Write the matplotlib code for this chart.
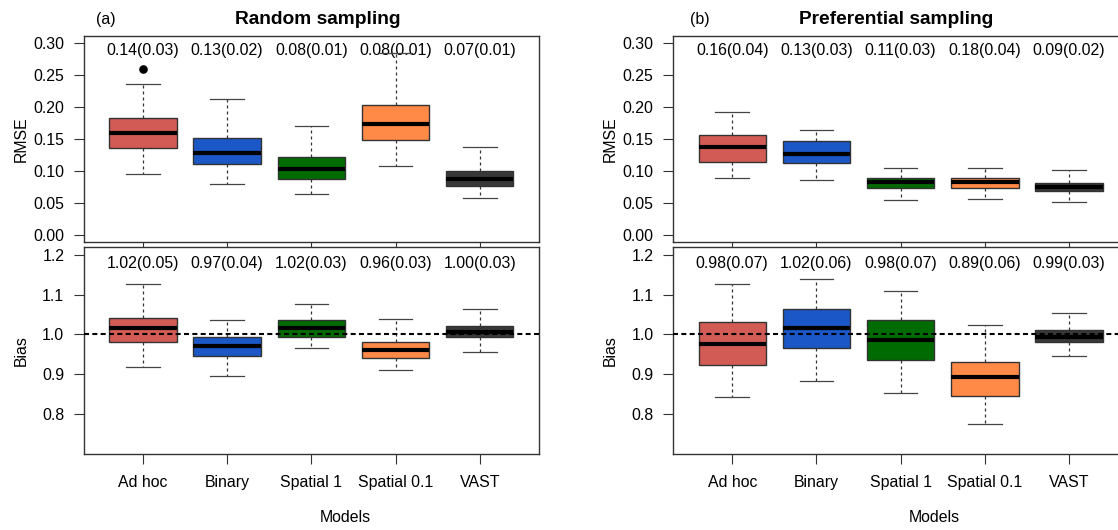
import matplotlib
matplotlib.use("Agg")
from matplotlib import pyplot as plt

plt.rcParams["font.family"] = ["Liberation Sans", "DejaVu Sans"]

models = ["Ad hoc", "Binary", "Spatial 1", "Spatial 0.1", "VAST"]
colors = ["#D25B55", "#1B57C6", "#006B00", "#FF8A47", "#383838"]

# box summaries: lower whisker, q1, median, q3, upper whisker
random_rmse = [[0.095, 0.136, 0.160, 0.183, 0.236],
               [0.080, 0.111, 0.128, 0.151, 0.212],
               [0.064, 0.087, 0.103, 0.121, 0.170],
               [0.108, 0.149, 0.173, 0.203, 0.285],
               [0.058, 0.076, 0.088, 0.100, 0.137]]
random_rmse_fliers = [[0.260], [], [], [], []]
random_rmse_text = ["0.14(0.03)", "0.13(0.02)", "0.08(0.01)", "0.08(0.01)", "0.07(0.01)"]

random_bias = [[0.919, 0.982, 1.016, 1.042, 1.127],
               [0.896, 0.945, 0.972, 0.993, 1.037],
               [0.967, 0.993, 1.016, 1.035, 1.076],
               [0.910, 0.942, 0.961, 0.982, 1.039],
               [0.957, 0.993, 1.005, 1.022, 1.064]]
random_bias_text = ["1.02(0.05)", "0.97(0.04)", "1.02(0.03)", "0.96(0.03)", "1.00(0.03)"]

pref_rmse = [[0.089, 0.114, 0.138, 0.156, 0.193],
             [0.086, 0.112, 0.126, 0.147, 0.164],
             [0.055, 0.073, 0.082, 0.089, 0.105],
             [0.056, 0.073, 0.082, 0.089, 0.105],
             [0.051, 0.068, 0.075, 0.081, 0.101]]
pref_rmse_text = ["0.16(0.04)", "0.13(0.03)", "0.11(0.03)", "0.18(0.04)", "0.09(0.02)"]

pref_bias = [[0.844, 0.924, 0.975, 1.030, 1.126],
             [0.884, 0.966, 1.016, 1.064, 1.140],
             [0.853, 0.936, 0.987, 1.035, 1.109],
             [0.775, 0.845, 0.893, 0.931, 1.023],
             [0.945, 0.980, 0.993, 1.010, 1.053]]
pref_bias_text = ["0.98(0.07)", "1.02(0.06)", "0.98(0.07)", "0.89(0.06)", "0.99(0.03)"]

rmse_ticks = [0.00, 0.05, 0.10, 0.15, 0.20, 0.25, 0.30]
bias_ticks = [0.8, 0.9, 1.0, 1.1, 1.2]

FS = 11.4
EDGE = "#333333"


def draw_panel(ax, stats, fliers, texts, text_y, ylim, yticks, fmt, ylabel, show_x):
    positions = list(range(1, len(models) + 1))
    bxp_stats = []
    for s, f in zip(stats, fliers):
        bxp_stats.append(dict(whislo=s[0], q1=s[1], med=s[2], q3=s[3], whishi=s[4], fliers=f))
    parts = ax.bxp(bxp_stats, positions=positions, widths=0.8, capwidths=0.4,
                   patch_artist=True, showfliers=True,
                   boxprops=dict(edgecolor=EDGE, linewidth=1.0),
                   medianprops=dict(color="black", linewidth=3.0, solid_capstyle="butt"),
                   whiskerprops=dict(color=EDGE, linewidth=0.9, linestyle=(0, (2.4, 2.4))),
                   capprops=dict(color="#444444", linewidth=0.9),
                   flierprops=dict(marker="o", markerfacecolor="black",
                                   markeredgecolor="black", markersize=5.2))
    for patch, c in zip(parts["boxes"], colors):
        patch.set_facecolor(c)
    for x, t in zip(positions, texts):
        ax.text(x, text_y, t, ha="center", va="center", fontsize=FS, zorder=1)
    ax.set_xlim(0.3, 5.7)
    ax.set_ylim(*ylim)
    ax.set_yticks(yticks)
    ax.set_yticklabels([fmt.format(v) for v in yticks])
    ax.set_xticks(positions)
    if show_x:
        ax.set_xticklabels(models)
    else:
        ax.set_xticklabels([])
    ax.tick_params(direction="out", length=7.2, width=0.8, color=EDGE, labelsize=FS)
    ax.tick_params(axis="y", pad=7)
    ax.tick_params(axis="x", pad=8)
    for sp in ax.spines.values():
        sp.set_color(EDGE)
        sp.set_linewidth(1.0)
    ax.set_ylabel(ylabel, fontsize=FS)
    ax.yaxis.set_label_coords(-0.122, 0.5)


fig = plt.figure(figsize=(11.18, 5.30), dpi=100)

W = 454.7 / 1118
H = 206.7 / 530
columns = [
    (84 / 1118, random_rmse, random_rmse_fliers, random_rmse_text, random_bias, random_bias_text,
     "(a)", "Random sampling", 0.514, 0.048),
    (673.3 / 1118, pref_rmse, [[] for _ in models], pref_rmse_text, pref_bias, pref_bias_text,
     "(b)", "Preferential sampling", 0.49, 0.058),
]

for left, rmse, rfl, rtxt, bias, btxt, tag, title, tx, tagx in columns:
    ax_top = fig.add_axes([left, 1 - 242.3 / 530, W, H])
    ax_bot = fig.add_axes([left, 1 - 453.7 / 530, W, H])
    draw_panel(ax_top, rmse, rfl, rtxt, 0.288, (-0.012, 0.312), rmse_ticks,
               "{:.2f}", "RMSE", False)
    draw_panel(ax_bot, bias, [[] for _ in models], btxt, 1.177, (0.7008, 1.2192), bias_ticks,
               "{:.1f}", "Bias", True)
    ax_bot.axhline(1.0, color="black", linewidth=1.5, linestyle=(0, (2.4, 1.6)), zorder=5)
    ax_bot.set_xlabel("Models", fontsize=FS)
    ax_bot.xaxis.set_label_coords(0.575, -0.272)
    ax_top.text(tx, 1.08, title, transform=ax_top.transAxes, ha="center", va="center",
                fontsize=13.8, fontweight="bold")
    ax_top.text(tagx, 1.08, tag, transform=ax_top.transAxes, ha="center", va="center",
                fontsize=FS)

fig.savefig("out.png", dpi=100)
